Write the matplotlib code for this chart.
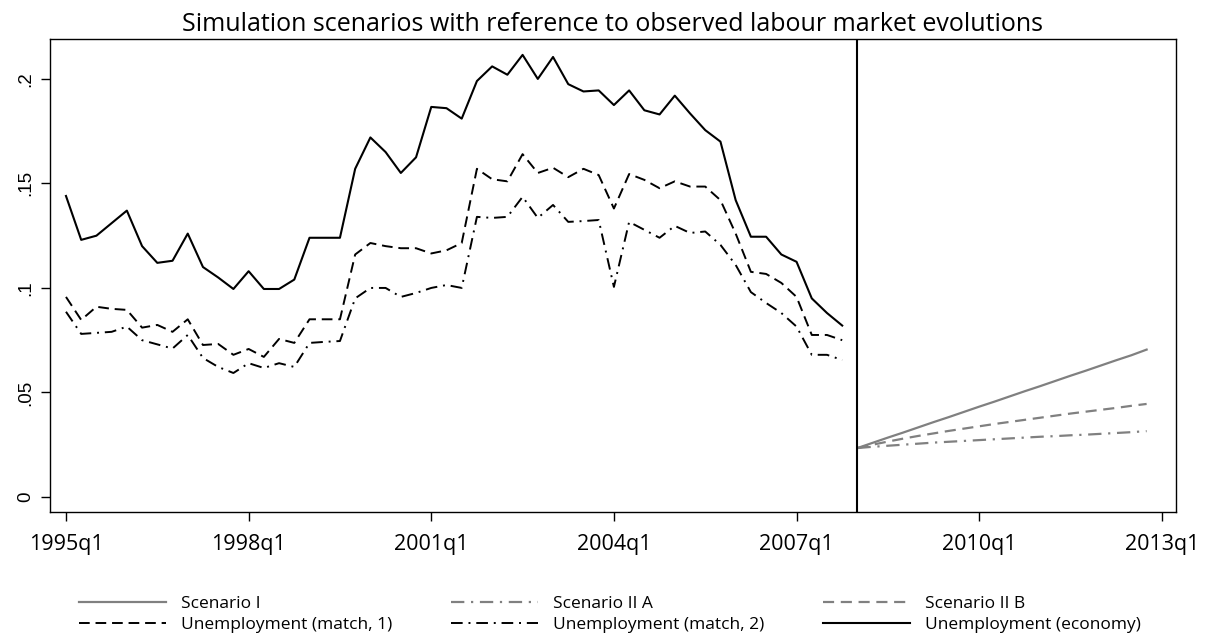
import matplotlib.pyplot as plt
import numpy as np

# observed series, quarterly 1995q1 - 2007q4
unemp_economy = [0.144, 0.123, 0.125, 0.131, 0.137, 0.120, 0.112, 0.113, 0.126, 0.110,
                 0.105, 0.0995, 0.108, 0.0995, 0.0995, 0.104, 0.124, 0.124, 0.124, 0.157,
                 0.172, 0.165, 0.155, 0.1625, 0.1866, 0.186, 0.181, 0.199, 0.206, 0.202,
                 0.2115, 0.200, 0.2105, 0.1975, 0.194, 0.1945, 0.1875, 0.1945, 0.185, 0.183,
                 0.192, 0.1835, 0.1755, 0.170, 0.142, 0.1245, 0.1245, 0.116, 0.1125, 0.095,
                 0.088, 0.082]
unemp_match1 = [0.0957, 0.0847, 0.091, 0.090, 0.0895, 0.081, 0.0823, 0.079, 0.085, 0.0727,
                0.0732, 0.068, 0.0708, 0.067, 0.0756, 0.0737, 0.085, 0.085, 0.085, 0.116,
                0.1215, 0.120, 0.119, 0.119, 0.1165, 0.118, 0.1215, 0.157, 0.152, 0.151,
                0.164, 0.155, 0.1575, 0.153, 0.157, 0.154, 0.138, 0.1545, 0.1517, 0.1477,
                0.151, 0.1485, 0.1485, 0.142, 0.126, 0.1077, 0.1067, 0.1024, 0.0957, 0.0775,
                0.0775, 0.075]
unemp_match2 = [0.0886, 0.078, 0.0785, 0.079, 0.0815, 0.075, 0.073, 0.071, 0.0775, 0.0665,
                0.0622, 0.0593, 0.064, 0.0617, 0.064, 0.0622, 0.0737, 0.0742, 0.0746, 0.095,
                0.100, 0.100, 0.0957, 0.0976, 0.100, 0.1014, 0.100, 0.134, 0.1335, 0.134,
                0.1436, 0.1335, 0.1397, 0.1316, 0.132, 0.1325, 0.1005, 0.1316, 0.1278, 0.124,
                0.1297, 0.1263, 0.127, 0.1206, 0.111, 0.098, 0.0928, 0.088, 0.0815, 0.068,
                0.068, 0.0655]

# simulation scenarios, 2008q1 - 2012q4
scen_1 = [0.0234, 0.0259, 0.0284, 0.0308, 0.0333, 0.0358, 0.0382, 0.0407, 0.0432, 0.0456,
          0.0481, 0.0506, 0.0530, 0.0555, 0.0580, 0.0604, 0.0629, 0.0654, 0.0678, 0.0705]
scen_2a = [0.0234, 0.0240, 0.0245, 0.0250, 0.0255, 0.0260, 0.0264, 0.0268, 0.0272, 0.0276,
           0.0280, 0.0284, 0.0288, 0.0291, 0.0295, 0.0298, 0.0302, 0.0306, 0.0310, 0.0315]
scen_2b = [0.0234, 0.0250, 0.0265, 0.0279, 0.0292, 0.0304, 0.0316, 0.0327, 0.0338, 0.0349,
           0.0359, 0.0369, 0.0379, 0.0389, 0.0399, 0.0408, 0.0417, 0.0426, 0.0436, 0.0445]

tick_labels = ['1995q1', '1998q1', '2001q1', '2004q1', '2007q1', '2010q1', '2013q1']
ytick_vals = [0, 0.05, 0.1, 0.15, 0.2]
ytick_labels = ['0', '.05', '.1', '.15', '.2']

# quarter index, 0 = 1995q1
t_obs = np.arange(len(unemp_economy))
t_sim = np.arange(len(scen_1)) + 52
split_q = 52  # 2008q1

gray = '#808080'

fig = plt.figure(figsize=(12.11, 6.35), dpi=100)
ax = fig.add_axes([50 / 1211, 1 - 512 / 635, 1126 / 1211, 473 / 635])

l1, = ax.plot(t_sim, scen_1, color=gray, lw=1.6, label='Scenario I')
l2, = ax.plot(t_sim, scen_2a, color=gray, lw=1.6, ls=(0, (6, 3, 1, 3)), label='Scenario II A')
l3, = ax.plot(t_sim, scen_2b, color=gray, lw=1.6, ls=(0, (5, 3)), label='Scenario II B')
l4, = ax.plot(t_obs, unemp_match1, color='black', lw=1.4, ls=(0, (5.5, 3)),
              label='Unemployment (match, 1)')
l5, = ax.plot(t_obs, unemp_match2, color='black', lw=1.4, ls=(0, (6, 3, 1, 3)),
              label='Unemployment (match, 2)')
l6, = ax.plot(t_obs, unemp_economy, color='black', lw=1.5, label='Unemployment (economy)')

ax.axvline(split_q, color='black', lw=1.5)

ax.set_xlim(-1.05, 72.93)
ax.set_ylim(-0.0072, 0.2191)

ax.set_xticks(np.arange(0, 73, 12))
ax.set_xticklabels(tick_labels, fontfamily='Open Sans', fontsize=15.5)
ax.set_yticks(ytick_vals)
ax.set_yticklabels(ytick_labels, fontfamily='Liberation Sans', fontsize=13.5,
                   rotation=90, va='center')
ax.tick_params(axis='both', length=6.5, width=1, direction='out')
ax.tick_params(axis='x', pad=9)
ax.tick_params(axis='y', pad=5)
for sp in ax.spines.values():
    sp.set_linewidth(1)

ax.set_title('Simulation scenarios with reference to observed labour market evolutions',
             fontfamily='Open Sans', fontsize=18, pad=6)

# legend: three columns, two rows
cols = [(79, [l1, l4]), (451, [l2, l5]), (823, [l3, l6])]
for x0, handles in cols:
    leg = fig.legend(handles=handles, loc='upper left',
                     bbox_to_anchor=(x0 / 1211, 1 - 596 / 635),
                     frameon=False, borderpad=0, borderaxespad=0,
                     handlelength=5.0, handletextpad=0.85, labelspacing=0.28,
                     prop={'family': 'Open Sans', 'size': 12.5})

fig.savefig('out.png', dpi=100)
